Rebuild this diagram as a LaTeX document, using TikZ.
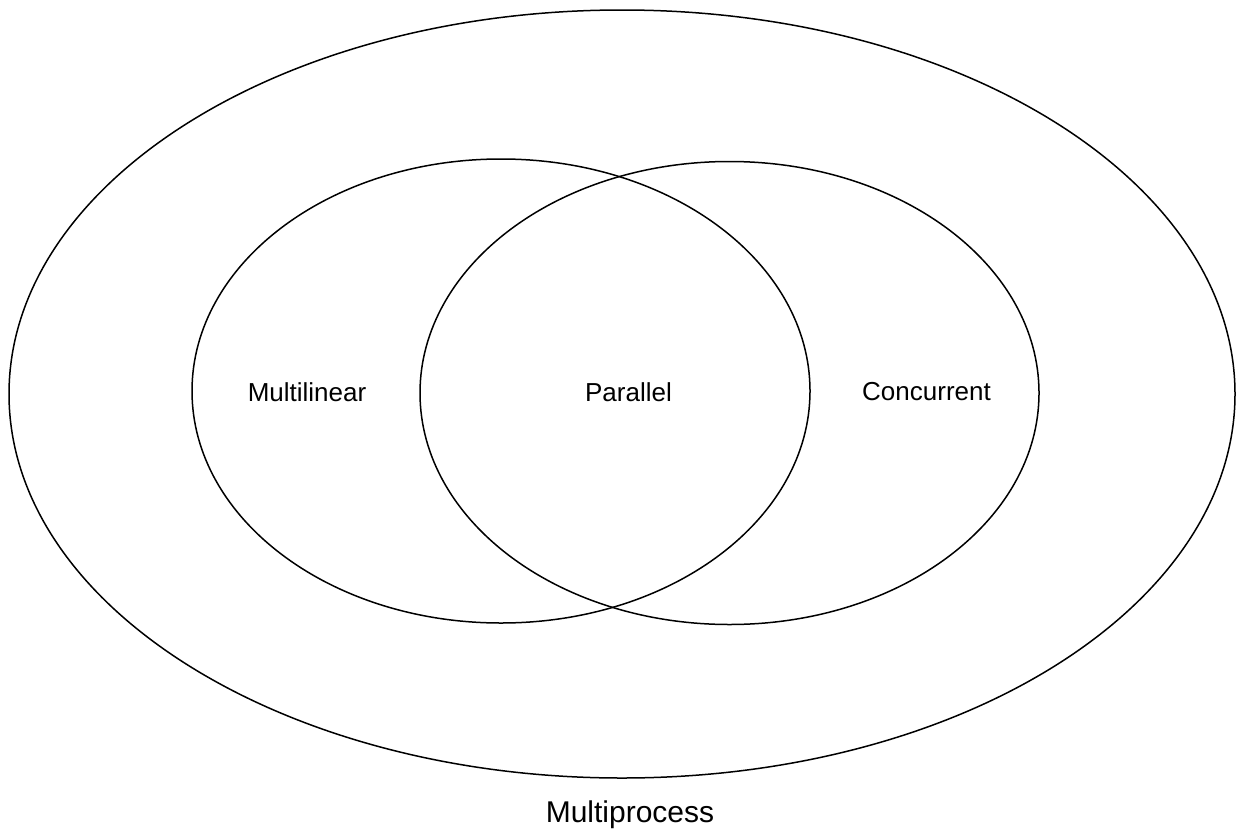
\documentclass[tikz,border=0pt]{standalone}
\usepackage{fontspec}
\setmainfont{Liberation Sans}
\usetikzlibrary{shapes.geometric}
\begin{document}
\begin{tikzpicture}
[
x=1pt, y=-1pt,
set/.style={ellipse, draw=black, line width=1.5pt, inner sep=0, outer sep=0},
lbl/.style={font=\fontsize{26}{30}\selectfont, inner sep=0},
big/.style={font=\fontsize{30}{34}\selectfont, inner sep=0}
]
\useasboundingbox (0,0) rectangle (1238,835);
%Sets
\node[set, minimum width=1226pt, minimum height=768pt] (mproc) at (622,394) {};
\node[set, minimum width=618pt, minimum height=464pt]  (mlin)  at (501,391) {};
\node[set, minimum width=619pt, minimum height=463pt]  (conc)  at (729.5,393) {};

%Labels
\node[lbl] (mlinlbl) at (307,392)   {Multilinear};
\node[lbl] (parlbl)  at (628.5,392) {Parallel};
\node[lbl] (conclbl) at (926.5,392) {Concurrent};
\node[big] (mproclbl) at (630,815)  {Multiprocess};
\end{tikzpicture}
\end{document}
